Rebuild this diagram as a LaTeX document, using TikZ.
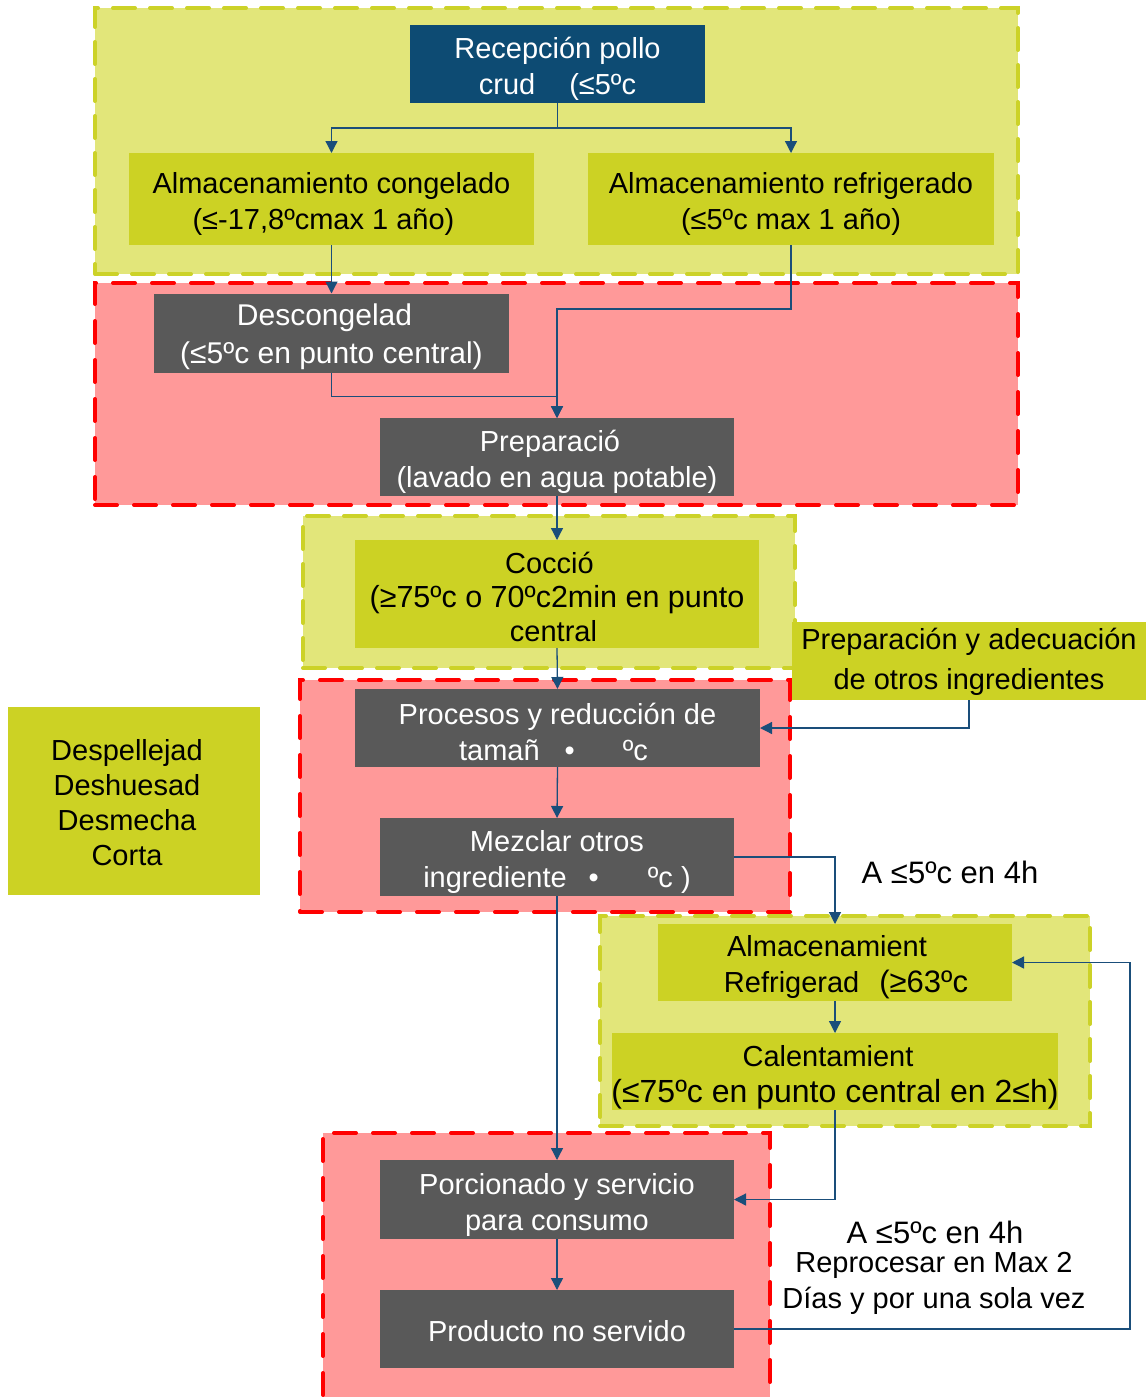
\documentclass[tikz,border=0pt]{standalone}
\usepackage{fontspec}
\setmainfont{Liberation Sans}
\usetikzlibrary{arrows.meta}
\definecolor{gYfill}{RGB}{226,230,122}
\definecolor{gYline}{RGB}{204,210,40}
\definecolor{rfill}{RGB}{255,153,153}
\definecolor{rline}{RGB}{255,0,0}
\definecolor{blueN}{RGB}{13,75,115}
\definecolor{yN}{RGB}{204,210,36}
\definecolor{greyN}{RGB}{89,89,89}
\definecolor{connC}{RGB}{26,78,122}
\newcommand{\fs}[2]{\fontsize{#1}{#2}\selectfont}
\begin{document}
\begin{tikzpicture}[x=1pt,y=-1pt,
  grpY/.style={draw=gYline, fill=gYfill, line width=4pt, line cap=round, dash pattern=on 22pt off 15pt, inner sep=0pt, outer sep=0pt},
  grpR/.style={draw=rline, fill=rfill, line width=4pt, line cap=round, dash pattern=on 22pt off 17pt, inner sep=0pt, outer sep=0pt},
  box/.style={inner sep=0pt, outer sep=0pt},
  boxB/.style={box, fill=blueN},
  boxY/.style={box, fill=yN},
  boxG/.style={box, fill=greyN},
  txtW/.style={inner sep=0pt, outer sep=0pt, align=center, text=white, font=\fs{29}{36}},
  txtK/.style={inner sep=0pt, outer sep=0pt, align=center, text=black, font=\fs{29}{36}},
  lbl/.style={inner sep=0pt, align=center, font=\fs{29}{36}},
  conn/.style={draw=connC, line width=1.3pt, -{Triangle[length=12pt,width=12pt]}}
]
\useasboundingbox (0,0) rectangle (1148,1397);
\fill[white] (0,0) rectangle (1148,1397);

% groups
\node[grpY, minimum width=923pt, minimum height=266pt] (g1) at (556.5,141) {};
\node[grpR, minimum width=923pt, minimum height=222pt] (g2) at (556.5,394) {};
\node[grpY, minimum width=492pt, minimum height=152pt] (g3) at (549,592) {};
\node[grpR, minimum width=490pt, minimum height=232pt] (g4) at (545,796) {};
\node[grpY, minimum width=490pt, minimum height=210pt] (g5) at (845,1021) {};
\node[grpR, minimum width=447pt, minimum height=270pt] (g6) at (546.5,1268) {};

% nodes
\node[boxB, minimum width=295pt, minimum height=78pt,
  label={[txtW, yshift=-4.5pt]center:{Recepción pollo\\crud\hspace{34pt}(≤5ºc}}] (rec) at (557.5,64) {};
\node[boxY, minimum width=405pt, minimum height=92pt,
  label={[txtK, yshift=-5pt]center:{Almacenamiento congelado\\\hspace*{-6pt}(≤-17,8ºcmax 1 año)\hspace*{10pt}}}] (almc) at (331.5,199) {};
\node[boxY, minimum width=406pt, minimum height=92pt,
  label={[txtK, yshift=-5pt]center:{Almacenamiento refrigerado\\(≤5ºc max 1 año)}}] (almr) at (791,199) {};
\node[boxG, minimum width=355pt, minimum height=79pt,
  label={[txtW, font=\fs{30}{38}, yshift=-3.5pt]center:{Descongelad\hspace*{14pt}\\(≤5ºc en punto central)}}] (desc) at (331.5,333) {};
\node[boxG, minimum width=354pt, minimum height=78pt,
  label={[txtW, yshift=-5pt]center:{Preparació\hspace*{14pt}\\(lavado en agua potable)}}] (prep) at (557,457) {};
\node[boxY, minimum width=404pt, minimum height=108pt,
  label={[txtK, font=\fs{29}{34}, yshift=-2.5pt]center:{Cocció\hspace*{15pt}\\{\fs{30.5}{34}(≥75ºc o 70ºc2min en punto}\\central\hspace*{7pt}}}] (coc) at (557,594) {};
\node[boxY, minimum width=354pt, minimum height=78pt,
  label={[txtK, font=\fs{29}{40}, yshift=-1pt]center:{Preparación y adecuación\\de otros ingredientes}}] (prad) at (969,661) {};
\node[boxG, minimum width=405pt, minimum height=78pt,
  label={[txtW, yshift=-3.5pt]center:{Procesos y reducción de\\tamañ\hspace{25pt}•\hspace{48pt}ºc\hspace*{8pt}}}] (proc) at (557.5,728) {};
\node[boxG, minimum width=354pt, minimum height=78pt,
  label={[txtW, yshift=-5pt]center:{Mezclar otros\\ingrediente\hspace{22pt}•\hspace{49pt}ºc )}}] (mez) at (557,857) {};
\node[boxY, minimum width=252pt, minimum height=188pt,
  label={[txtK, font=\fs{29}{35}, yshift=-1.5pt, xshift=-7pt]center:{Despellejad\\Deshuesad\\Desmecha\\Corta}}] (desp) at (134,801) {};
\node[boxY, minimum width=354pt, minimum height=77pt,
  label={[txtK, yshift=-5pt]center:{Almacenamient\hspace*{16pt}\\\hspace*{22pt}Refrigerad\hspace{20pt}{\fs{31}{36}(≥63ºc}}}] (almref) at (835,962.5) {};
\node[boxY, minimum width=446pt, minimum height=77pt,
  label={[txtK, yshift=-5.5pt]center:{Calentamient\hspace*{14pt}\\{\fs{32}{36}(≤75ºc en punto central en 2≤h)}}}] (cal) at (835,1071.5) {};
\node[boxG, minimum width=354pt, minimum height=79pt,
  label={[txtW, yshift=-5pt]center:{Porcionado y servicio\\para consumo}}] (porc) at (557,1199.5) {};
\node[boxG, minimum width=354pt, minimum height=78pt,
  label={[txtW, yshift=-2pt]center:{Producto no servido}}] (prod) at (557,1329) {};

% labels
\node[lbl, font=\fs{31}{36}] (la) at (950,872) {A ≤5ºc en 4h};
\node[lbl, font=\fs{31}{36}] (lb) at (935,1232) {A ≤5ºc en 4h};
\node[lbl, font=\fs{29}{36}] (lc) at (934,1283) {Reprocesar en Max 2\\Días y por una sola vez};

% connectors
\coordinate (rc) at (1130,1329);
\draw[conn] (rec.south) -- ++(0,25) -| (almc.north);
\draw[conn] (rec.south) -- ++(0,25) -| (almr.north);
\draw[conn] (almc.south) -- (desc.north);
\draw[conn] (almr.south) -- ++(0,64) -| (prep.north);
\draw[conn] (desc.south) -- ++(0,24) -| (prep.north);
\draw[conn] (prep.south) -- (coc.north);
\draw[conn] (coc.south) -- (proc.north);
\draw[conn] (prad.south) |- (proc.east);
\draw[conn] (proc.south) -- (mez.north);
\draw[conn] (mez.east) -| (almref.north);
\draw[conn] (mez.south) -- (porc.north);
\draw[conn] (almref.south) -- (cal.north);
\draw[conn] (cal.south) |- (porc.east);
\draw[conn] (porc.south) -- (prod.north);
\draw[conn] (prod.east) -- (rc) |- (almref.east);
\end{tikzpicture}
\end{document}
